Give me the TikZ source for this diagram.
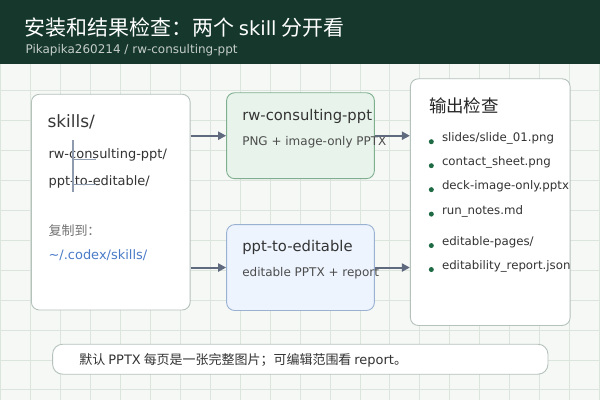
\documentclass[tikz,border=0pt]{standalone}
\usepackage{fontspec}
\setmainfont{Noto Sans CJK SC}
\newfontfamily\lat{DejaVu Sans}
\usetikzlibrary{arrows.meta}

\definecolor{headbg}{HTML}{15372C}
\definecolor{pagebg}{HTML}{F6F8F6}
\definecolor{gridln}{HTML}{DCE4DE}
\definecolor{panelln}{HTML}{B5C2BC}
\definecolor{greenfill}{HTML}{E8F4EB}
\definecolor{greenln}{HTML}{7FAF8E}
\definecolor{bluefill}{HTML}{EDF4FE}
\definecolor{blueln}{HTML}{9AB1D2}
\definecolor{arrowc}{HTML}{5F6A7E}
\definecolor{treeln}{HTML}{8E9AAE}
\definecolor{dotc}{HTML}{1D6A44}
\definecolor{linkc}{HTML}{4A7BC8}

\tikzset{
  panel/.style={draw=panelln, line width=0.9pt, fill=white, rounded corners=8pt, inner sep=0pt},
  skillbox/.style={line width=0.9pt, rounded corners=8pt, inner sep=0pt,
    minimum width=148pt, minimum height=86pt},
  txt/.style={anchor=west, inner sep=0pt, text=black!80},
  flow/.style={draw=arrowc, line width=2pt, -{Triangle[length=8pt,width=8pt]}},
  dot/.style={circle, fill=dotc, inner sep=0pt, minimum size=5pt}
}

\begin{document}
\begin{tikzpicture}[x=1pt, y=-1pt]
  % background and grid
  \fill[pagebg] (0,0) rectangle (600,400);
  \draw[gridln, line width=0.8pt] (0,0) grid[step=30pt] (600,400);
  \useasboundingbox (0,0) rectangle (600,400);

  % header
  \fill[headbg] (0,0) rectangle (600,64);
  \node[txt, text=white, font=\fontsize{21}{21}\selectfont] (title) at (24,27) {安装和结果检查：两个 {\lat\fontsize{19.5}{20}\selectfont skill} 分开看};
  \node[txt, text=white!75!headbg, font=\lat\fontsize{12}{12}\selectfont] (sub) at (25,50) {Pikapika260214 / rw-consulting-ppt};

  % skills folder
  \node[panel, minimum width=159pt, minimum height=216pt] (src) at (110.5,202) {};
  \node[txt, text=black!78, font=\lat\fontsize{17}{17}\selectfont] (srctitle) at (47,122) {skills/};
  \node[txt, font=\lat\fontsize{13}{13}\selectfont] (srca) at (48,155) {rw-consulting-ppt/};
  \node[txt, font=\lat\fontsize{13}{13}\selectfont] (srcb) at (48,181.5) {ppt-to-editable/};
  \draw[treeln, line width=1.3pt] (72.7,140) -- (72.7,192)
    (72.7,159) -- (96,159) (72.7,184.5) -- (96,184.5);
  \node[txt, text=black!55, font=\fontsize{13}{13}\selectfont] (copy) at (48,230.5) {复制到：};
  \node[txt, text=linkc, font=\lat\fontsize{13}{13}\selectfont] (dest) at (48,255) {\textasciitilde/.codex/skills/};

  % two skills
  \node[skillbox, draw=greenln, fill=greenfill] (rw) at (300.5,135.5) {};
  \node[txt, font=\lat\fontsize{14.8}{14.8}\selectfont] (rwname) at (242,116) {rw-consulting-ppt};
  \node[txt, text=black!70, font=\lat\fontsize{12}{12}\selectfont] (rwout) at (242,142) {PNG + image-only PPTX};

  \node[skillbox, draw=blueln, fill=bluefill] (ed) at (300.5,267.5) {};
  \node[txt, font=\lat\fontsize{14.8}{14.8}\selectfont] (edname) at (242,247.5) {ppt-to-editable};
  \node[txt, text=black!70, font=\lat\fontsize{12}{12}\selectfont] (edout) at (242,273.5) {editable PPTX + report};

  % outputs
  \node[panel, minimum width=160pt, minimum height=247pt] (out) at (490.5,202) {};
  \node[txt, text=black!85, font=\fontsize{17.5}{17.5}\selectfont] (outtitle) at (429,105.5) {输出检查};
  \foreach \y/\f [count=\i] in {138.5/{slides/slide\_01.png}, 162.5/{contact\_sheet.png},
      186.5/{deck-image-only.pptx}, 211/{run\_notes.md}, 242.5/{editable-pages/},
      266.5/{editability\_report.json}} {
    \node[dot] (bul\i) at (431.5,\y+3) {};
    \node[txt, font=\lat\fontsize{11.8}{11.8}\selectfont] (file\i) at (442,\y) {\f};
  }

  % connectors
  \draw[flow] (src.east |- rw.west) -- (rw.west);
  \draw[flow] (src.east |- ed.west) -- (ed.west);
  \draw[flow] (rw.east) -- (out.west |- rw.east);
  \draw[flow] (ed.east) -- (out.west |- ed.east);

  % note
  \node[draw=panelln, line width=0.9pt, fill=white, rounded corners=10pt,
    minimum width=496pt, minimum height=30pt] (note) at (300.3,359.3) {};
  \node[txt, font=\fontsize{13}{13}\selectfont] (notetext) at (79,360.5) {默认 {\lat PPTX} 每页是一张完整图片；可编辑范围看 {\lat report}。};
\end{tikzpicture}
\end{document}
